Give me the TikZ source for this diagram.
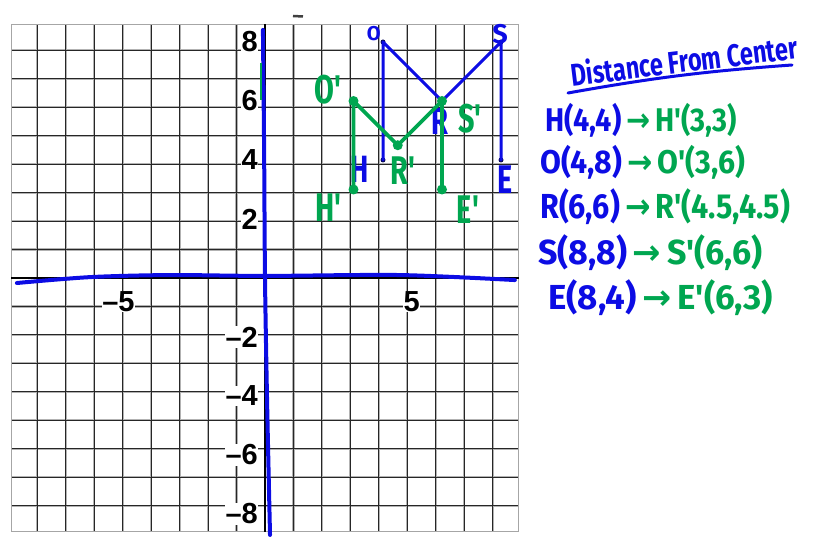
\documentclass[tikz,border=0pt]{standalone}
\usepackage{fontspec}
\setmainfont{Liberation Sans}
\newfontfamily\hand{Fira Sans}
\newfontfamily\arrowfont{DejaVu Sans}
\definecolor{mblue}{RGB}{12,12,228}
\definecolor{mgreen}{RGB}{0,166,80}
\definecolor{dotblue}{RGB}{10,10,90}
\newcommand{\arr}{{\arrowfont\bfseries →}}
\newcommand{\narrow}[1]{\scalebox{0.72}[1]{#1}}
\begin{document}
\begin{tikzpicture}[x=29.5pt,y=29.5pt,
  gridhalo/.style={line width=2.2pt,black!30},
  gridline/.style={line width=0.9pt,black!85},
  axnum/.style={font=\bfseries\fontsize{29}{29}\selectfont,fill=white,inner sep=0.5pt},
  bluepen/.style={mblue,line width=3.6pt,line cap=round,line join=round},
  bluethin/.style={mblue,line width=3pt,line cap=round,line join=round},
  greenpen/.style={mgreen,line width=3.8pt,line cap=round,line join=round},
  bdot/.style={circle,fill=dotblue,inner sep=0pt,minimum size=5pt},
  gdot/.style={circle,fill=mgreen,inner sep=0pt,minimum size=10pt},
  bluelab/.style={mblue,inner sep=0pt,font=\hand\bfseries\fontsize{38}{38}\selectfont},
  greenlab/.style={mgreen,inner sep=0pt,font=\hand\bfseries\fontsize{40}{40}\selectfont},
  rowtext/.style={anchor=west,inner sep=0pt,font=\hand\bfseries}
]
\useasboundingbox (-265pt,-268pt) rectangle (560pt,278pt);
% grid
\draw[gridhalo] (-8.6,-8.6) grid (8.6,8.6);
\draw[gridline] (-8.6,-8.6) grid (8.6,8.6);
\draw[line width=1.2pt,black!35] (-8.6,-8.6) rectangle (8.6,8.6);
\draw[line width=1.6pt,black] (-8.6,0) -- (8.6,0);
\draw[line width=1.6pt,black] (0,-8.6) -- (0,8.6);
% axis numbers
\foreach \k in {8,6,4,2}{\node[axnum,anchor=east] (ylab\k) at (-0.22,\k) {\k};}
\foreach \k in {2,4,6,8}{\node[axnum,anchor=east] (ylabm\k) at (-0.22,-\k) {–\k};}
\node[axnum] (xlabm5) at (-4.97,-0.8) {–5};
\node[axnum] (xlab5) at (4.97,-0.8) {5};
% hand-drawn axes
\draw[bluepen,line width=4pt] plot[smooth] coordinates {(-0.07,8.41) (-0.03,4.34) (0,0) (0.07,-4.14) (0.17,-8.71)};
\draw[bluepen,line width=4pt] plot[smooth] coordinates {(-8.41,-0.17) (-5.93,0.03) (-3.22,0.10) (0,0.07) (4.58,0.10) (8.47,-0.07)};
\draw[mgreen,line width=2pt] (-0.12,7.29) -- (-0.12,6.03);
\draw[black!75,line width=2.5pt] (28pt,262pt) -- (38pt,261.5pt);
% blue figure
\node[bdot] (O) at (4,8) {};
\node[bdot] (H) at (4,4) {};
\node[bdot] (R) at (6,6) {};
\node[bdot] (S) at (8,8) {};
\node[bdot] (E) at (8,4) {};
\draw[bluethin] (H.center) -- (O.center) -- (R.center) -- (S.center) -- (E.center);
\node[bluelab,font=\hand\bfseries\fontsize{20}{20}\selectfont] (Olab) at (3.69,8.27) {O};
\node[bluelab,font=\hand\bfseries\fontsize{27}{27}\selectfont] (Slab) at (7.97,8.25) {S};
\node[bluelab] (Hlab) at (3.22,3.7) {\narrow{H}};
\node[bluelab] (Rlab) at (5.93,5.3) {\narrow{R}};
\node[bluelab,font=\hand\bfseries\fontsize{40}{40}\selectfont] (Elab) at (8.14,3.32) {\narrow{E}};
% green figure
\node[gdot] (Op) at (3,6) {};
\node[gdot] (Hp) at (3,3) {};
\node[gdot] (Rp) at (4.5,4.5) {};
\node[gdot] (Sp) at (6,6) {};
\node[gdot] (Ep) at (6,3) {};
\draw[greenpen] (Hp.center) -- (Op.center) -- (Rp.center) -- (Sp.center) -- (Ep.center);
\node[greenlab] (Oplab) at (2.14,6.4) {\narrow{O'}};
\node[greenlab] (Hplab) at (2.14,2.4) {\narrow{H'}};
\node[greenlab] (Rplab) at (4.68,3.63) {\narrow{R'}};
\node[greenlab] (Splab) at (6.95,5.4) {\narrow{S'}};
\node[greenlab] (Eplab) at (6.88,2.33) {\narrow{E'}};
% right-hand notes
\node[mblue,inner sep=0pt,rotate=7,font=\hand\bfseries] (title) at (419pt,218pt) {\resizebox*{228pt}{26pt}{Distance From Center}};
\draw[mblue,line width=3pt,line cap=round] (303pt,185pt) to[bend left=3] (527pt,213pt);
\node[rowtext] (row1) at (280pt,158pt) {\resizebox*{192pt}{34pt}{\color{mblue}H(4,4)\color{mgreen}\,\arr\,H'(3,3)}};
\node[rowtext] (row2) at (275pt,116pt) {\resizebox*{205pt}{34pt}{\color{mblue}O(4,8)\color{mgreen}\,\arr\,O'(3,6)}};
\node[rowtext] (row3) at (275pt,71pt) {\resizebox*{250pt}{36pt}{\color{mblue}R(6,6)\color{mgreen}\,\arr\,R'(4.5,4.5)}};
\node[rowtext] (row4) at (273pt,25pt) {\resizebox*{224pt}{36pt}{\color{mblue}S(8,8)\color{mgreen}\,\arr\,S'(6,6)}};
\node[rowtext] (row5) at (283pt,-20pt) {\resizebox*{225pt}{36pt}{\color{mblue}E(8,4)\color{mgreen}\,\arr\,E'(6,3)}};
\end{tikzpicture}
\end{document}
